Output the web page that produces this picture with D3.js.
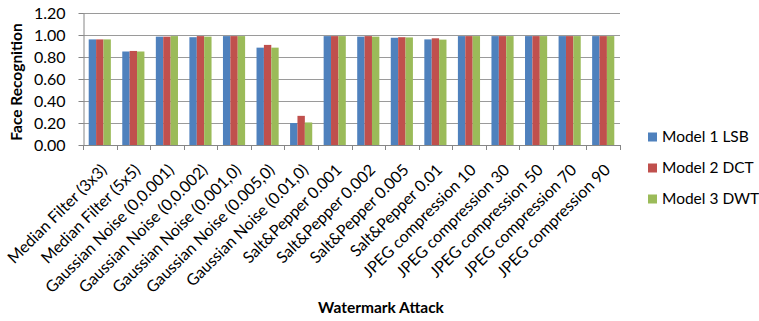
<!DOCTYPE html>
<html>
<head>
<meta charset="utf-8">
<script src="https://cdn.jsdelivr.net/npm/d3@7/dist/d3.min.js"></script>
<style>
  html, body { margin: 0; padding: 0; background: #fff; }
  svg { display: block; font-family: "Lato", "Open Sans", sans-serif; }
</style>
</head>
<body>
<svg id="chart" width="759" height="321"></svg>
<script>
// Watermark attacks and face-recognition rate for each model
const categories = [
  "Median Filter (3x3)", "Median Filter (5x5)", "Gaussian Noise (0,0.001)",
  "Gaussian Noise (0,0.002)", "Gaussian Noise (0.001,0)", "Gaussian Noise (0.005,0)",
  "Gaussian Noise (0.01,0)", "Salt&Pepper 0.001", "Salt&Pepper 0.002",
  "Salt&Pepper 0.005", "Salt&Pepper 0.01", "JPEG compression 10",
  "JPEG compression 30", "JPEG compression 50", "JPEG compression 70", "JPEG compression 90"
];
const seriesNames = ["Model 1 LSB", "Model 2 DCT", "Model 3 DWT"];
const model1LSB = [0.96, 0.85, 0.985, 0.98, 0.99, 0.885, 0.20, 0.99, 0.985, 0.975, 0.96, 0.99, 0.99, 0.99, 0.99, 0.99];
const model2DCT = [0.96, 0.855, 0.985, 0.99, 0.99, 0.91, 0.265, 0.99, 0.99, 0.98, 0.97, 0.99, 0.99, 0.99, 0.99, 0.99];
const model3DWT = [0.96, 0.85, 0.99, 0.985, 0.99, 0.885, 0.205, 0.99, 0.985, 0.978, 0.958, 0.99, 0.99, 0.99, 0.99, 0.99];
const yTicks = [0, 0.2, 0.4, 0.6, 0.8, 1.0, 1.2];
const colors = ["#4F81BD", "#C0504D", "#9BBB59"];

const seriesValues = [model1LSB, model2DCT, model3DWT];
const rows = categories.map((c, i) => ({ cat: c, vals: seriesValues.map(s => s[i]) }));

const svg = d3.select("#chart");
const m = { left: 83, right: 620, top: 13, bottom: 145 };

const x = d3.scaleBand().domain(categories).range([m.left, m.right]).paddingInner(0.34).paddingOuter(0.17);
const xSub = d3.scaleBand().domain(d3.range(3)).range([0, x.bandwidth()]);
const y = d3.scaleLinear().domain([0, 1.2]).range([m.bottom, m.top]);

// Horizontal gridlines
svg.append("g").selectAll("line").data(yTicks.slice(1)).join("line")
  .attr("x1", m.left).attr("x2", m.right)
  .attr("y1", d => Math.round(y(d)) + 0.5).attr("y2", d => Math.round(y(d)) + 0.5)
  .attr("stroke", "#9a9a9a").attr("stroke-width", 1);

// Bars
svg.append("g").selectAll("g").data(rows).join("g")
  .attr("transform", d => `translate(${x(d.cat)},0)`)
  .selectAll("rect").data(d => d.vals.map((v, k) => ({ v, k }))).join("rect")
  .attr("x", d => xSub(d.k))
  .attr("width", xSub.bandwidth())
  .attr("y", d => y(d.v))
  .attr("height", d => y(0) - y(d.v))
  .attr("fill", d => colors[d.k]);

// Y axis
const yAxis = svg.append("g").attr("transform", `translate(${m.left + 0.5},0)`)
  .call(d3.axisLeft(y).tickValues(yTicks).tickFormat(d3.format(".2f")).tickSize(5).tickPadding(13).tickSizeOuter(0));
yAxis.select(".domain").attr("stroke", "#868686");
yAxis.selectAll(".tick line").attr("stroke", "#868686");
yAxis.selectAll("text").attr("font-size", 16).attr("fill", "#000")
  .attr("font-family", "Lato, sans-serif");

// X axis line with ticks at category boundaries
const bounds = d3.range(categories.length + 1).map(i => m.left + i * (m.right - m.left) / categories.length);
svg.append("line").attr("x1", m.left).attr("x2", m.right)
  .attr("y1", m.bottom + 0.5).attr("y2", m.bottom + 0.5).attr("stroke", "#868686");
svg.append("g").selectAll("line").data(bounds).join("line")
  .attr("x1", d => Math.round(d) + 0.5).attr("x2", d => Math.round(d) + 0.5)
  .attr("y1", m.bottom).attr("y2", m.bottom + 5).attr("stroke", "#868686");

// Rotated category labels
svg.append("g").selectAll("text").data(categories).join("text")
  .attr("transform", d => `translate(${x(d) + x.bandwidth() / 2 + 8},${m.bottom + 26}) rotate(-45)`)
  .attr("text-anchor", "end")
  .attr("font-size", 16)
  .attr("fill", "#000")
  .text(d => d);

// Axis titles
svg.append("text")
  .attr("transform", `translate(22,${(m.top + m.bottom) / 2 + 3}) rotate(-90)`)
  .attr("text-anchor", "middle").attr("font-size", 15.5).attr("font-weight", "bold")
  .text("Face Recognition");
svg.append("text")
  .attr("x", 381).attr("y", 313)
  .attr("text-anchor", "middle").attr("font-size", 15.5).attr("font-weight", "bold")
  .text("Watermark Attack");

// Legend
const legend = svg.append("g").selectAll("g").data(seriesNames).join("g")
  .attr("transform", (d, i) => `translate(648,${137 + i * 31})`);
legend.append("rect").attr("x", 0).attr("y", -4.5).attr("width", 9).attr("height", 9)
  .attr("fill", (d, i) => colors[i]);
legend.append("text").attr("x", 14).attr("y", 0).attr("dy", "0.35em")
  .attr("font-size", 15.5).attr("fill", "#000").text(d => d);
</script>
</body>
</html>
